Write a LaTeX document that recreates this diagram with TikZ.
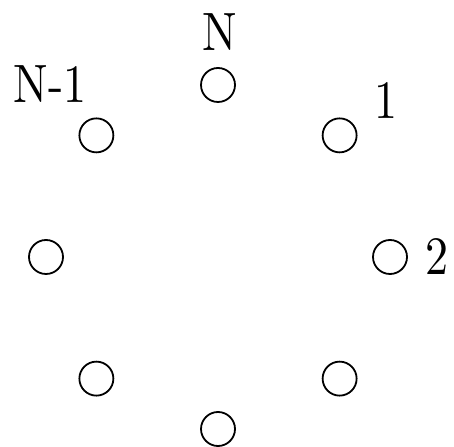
\documentclass[tikz,border=0pt]{standalone}
\usetikzlibrary{calc}
\begin{document}
\begin{tikzpicture}[x=1pt,y=1pt,
  site/.style={circle,draw,line width=1.8pt,minimum size=34pt,inner sep=0pt},
  tag/.style={font=\fontsize{10}{10}\selectfont,inner sep=0pt,anchor=base,xscale=4.6,yscale=5.4,transform shape}]
  \useasboundingbox (0,0) rectangle (454,446);
  % eight sites on a ring centred at (218,189)
  \foreach \k/\ang in {n/90,a/45,b/0,c/-45,d/-90,e/-135,f/180,g/135}
    \node[site] (s\k) at ($(218,189)+(\ang:172)$) {};
  \node[tag] (tn)  at (220,395) {N};
  \node[tag] (tg)  at (50,343)  {N-1};
  \node[tag] (ta)  at (386,327) {1};
  \node[tag] (tb)  at (437,171) {2};
\end{tikzpicture}
\end{document}
